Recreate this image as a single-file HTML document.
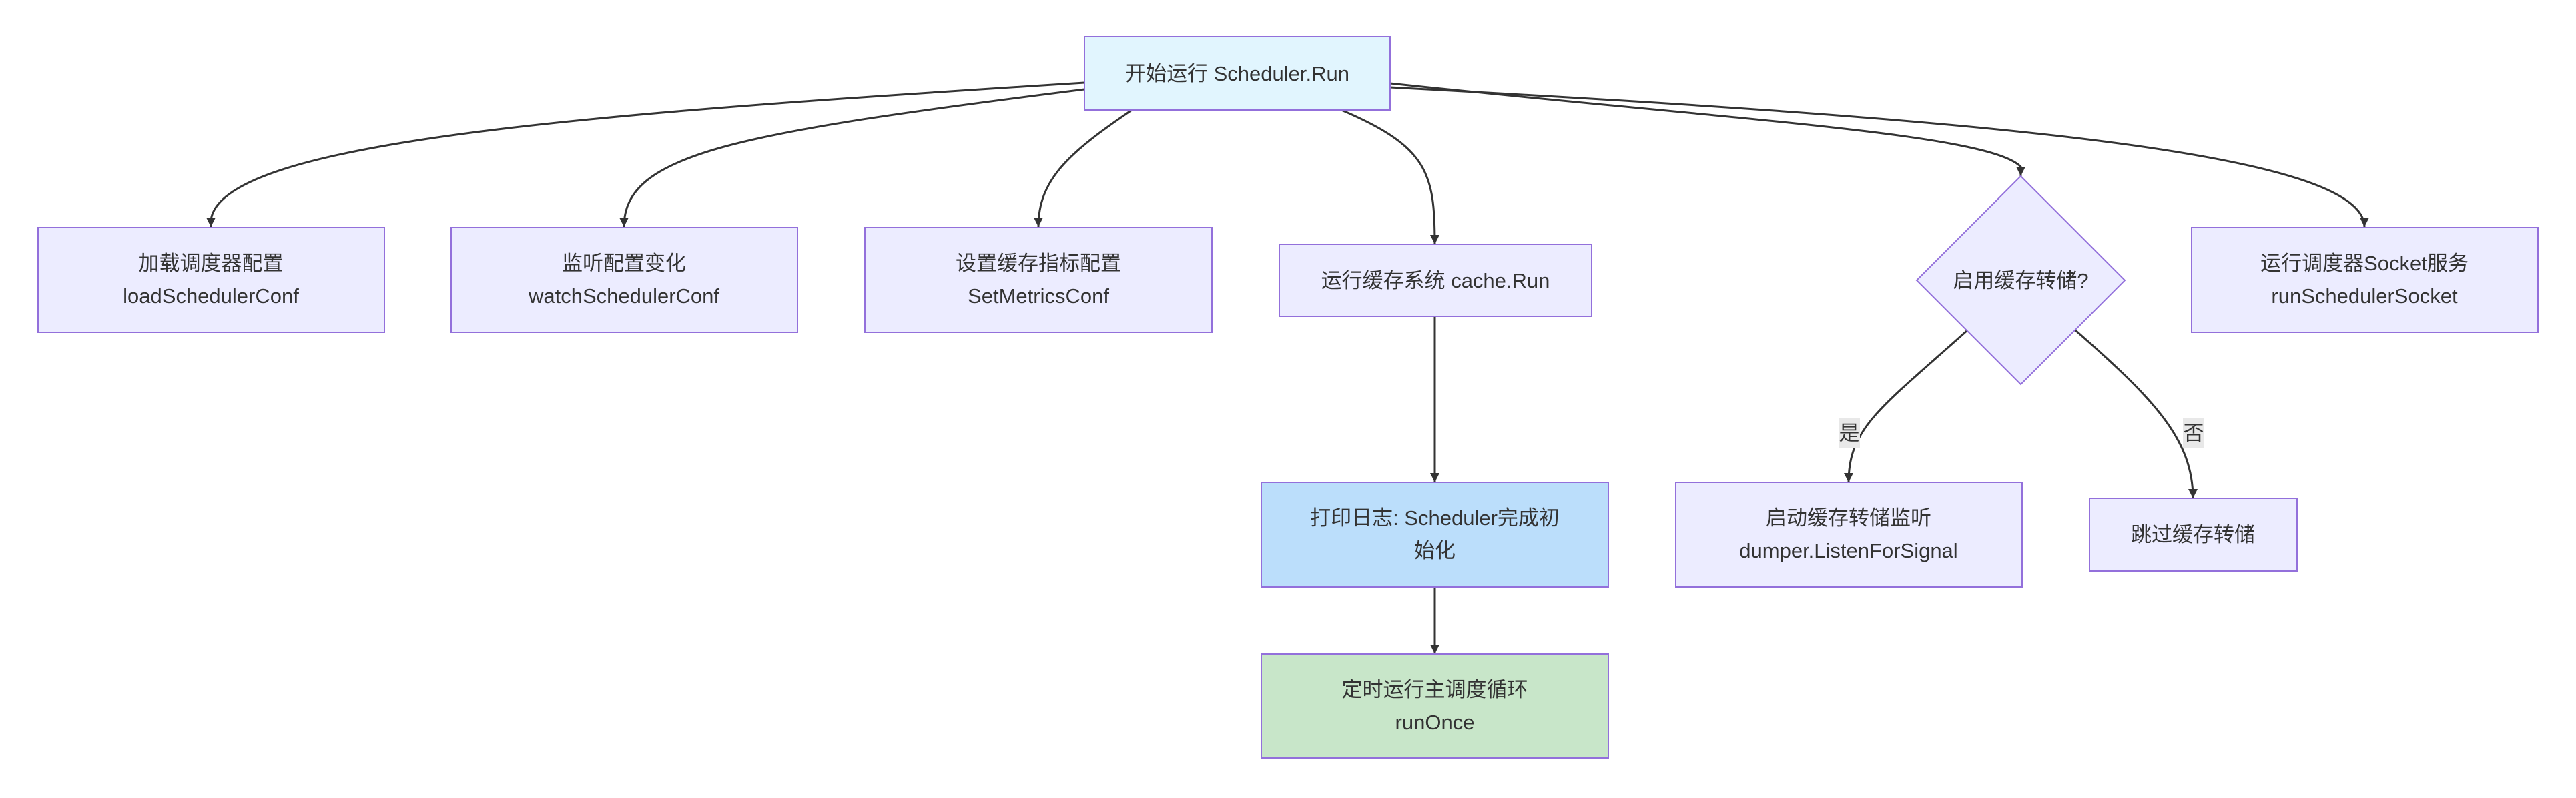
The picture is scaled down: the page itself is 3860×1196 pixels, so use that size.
<!DOCTYPE html>
<html><head><meta charset="utf-8"><style>
html,body{margin:0;padding:0;background:#fff;}
svg text{font-family:"Liberation Sans","Noto Sans CJK SC",sans-serif;font-size:31px;fill:#333;}
</style></head><body>
<svg width="3860" height="1191" viewBox="0 0 3860 1191" xmlns="http://www.w3.org/2000/svg">
<defs><marker id="a" viewBox="0 0 10 10" refX="9" refY="5" markerWidth="8" markerHeight="8" orient="auto-start-reverse" markerUnits="userSpaceOnUse"><path d="M0,0 L10,5 L0,10 z" fill="#333"/></marker>
<marker id="b" viewBox="0 0 10 10" refX="10" refY="5" markerWidth="14" markerHeight="14" orient="auto" markerUnits="userSpaceOnUse"><path d="M0,0 L10,5 L0,10 z" fill="#333"/></marker></defs>
<g fill="none" stroke="#333" stroke-width="3" marker-end="url(#b)">
<path d="M1625,124 C900,170 330,210 316,330 L316,340"/>
<path d="M1625,134 C1100,200 935,230 935,340"/>
<path d="M1696,165 C1600,230 1556,270 1556,340"/>
<path d="M2010,165 C2140,220 2150,260 2150,366"/>
<path d="M2083,125 C2600,180 2980,200 3028,250 L3028,264"/>
<path d="M2083,131 C3000,180 3543,230 3543,340"/>
<path d="M2150,474 L2150,723"/>
<path d="M2150,880 L2150,980"/>
<path d="M2948,495 C2820,610 2770,640 2770,723"/>
<path d="M3110,495 C3230,600 3286,660 3286,747"/>
</g>
<g stroke="#9370db" stroke-width="2">
<rect x="1625" y="55" width="458" height="110" fill="#e1f5fe"/>
<rect x="57" y="341" width="519" height="157" fill="#ececff"/>
<rect x="676" y="341" width="519" height="157" fill="#ececff"/>
<rect x="1296" y="341" width="520" height="157" fill="#ececff"/>
<rect x="1917" y="366" width="468" height="108" fill="#ececff"/>
<polygon points="3028,264 3184,420 3028,576 2872,420" fill="#ececff"/>
<rect x="3284" y="341" width="519" height="157" fill="#ececff"/>
<rect x="1890" y="723" width="520" height="157" fill="#bbdefb"/>
<rect x="1890" y="980" width="520" height="156" fill="#c8e6c9"/>
<rect x="2511" y="723" width="519" height="157" fill="#ececff"/>
<rect x="3131" y="747" width="311" height="109" fill="#ececff"/>
</g>
<rect x="2755" y="626" width="32" height="46" fill="#e8e8e8"/>
<rect x="3271" y="626" width="32" height="46" fill="#e8e8e8"/>
<g text-anchor="middle">
<text x="1854" y="121">开始运行 Scheduler.Run</text>
<text x="316" y="405">加载调度器配置</text><text x="316" y="454">loadSchedulerConf</text>
<text x="935" y="405">监听配置变化</text><text x="935" y="454">watchSchedulerConf</text>
<text x="1556" y="405">设置缓存指标配置</text><text x="1556" y="454">SetMetricsConf</text>
<text x="2151" y="431">运行缓存系统 cache.Run</text>
<text x="3028" y="431">启用缓存转储?</text>
<text x="3543" y="405">运行调度器Socket服务</text><text x="3543" y="454">runSchedulerSocket</text>
<text x="2150" y="787">打印日志: Scheduler完成初</text><text x="2150" y="836">始化</text>
<text x="2150" y="1044">定时运行主调度循环</text><text x="2150" y="1093">runOnce</text>
<text x="2770" y="787">启动缓存转储监听</text><text x="2770" y="836">dumper.ListenForSignal</text>
<text x="3286" y="812">跳过缓存转储</text>
<text x="2771" y="660">是</text>
<text x="3287" y="660">否</text>
</g>
</svg>
</body></html>
